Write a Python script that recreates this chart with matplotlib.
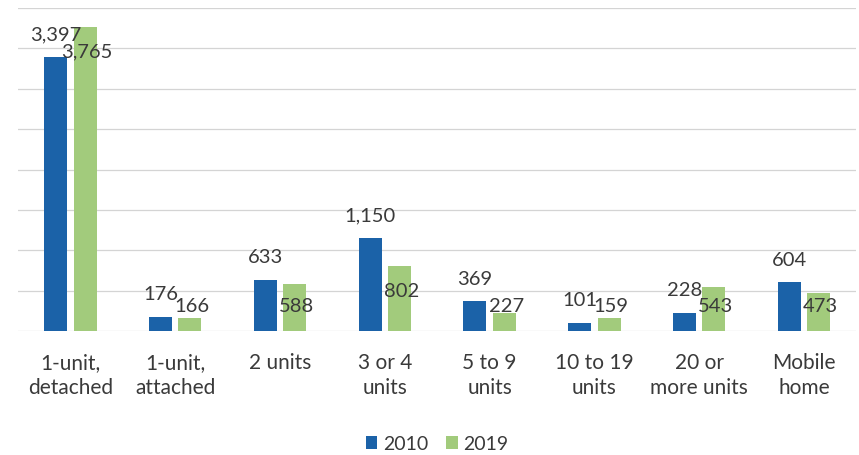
import matplotlib
matplotlib.use("Agg")
import matplotlib.pyplot as plt
import numpy as np

categories = ["1-unit,\ndetached", "1-unit,\nattached", "2 units", "3 or 4\nunits",
              "5 to 9\nunits", "10 to 19\nunits", "20 or\nmore units", "Mobile\nhome"]
values_2010 = [3397, 176, 633, 1150, 369, 101, 228, 604]
values_2019 = [3765, 166, 588, 802, 227, 159, 543, 473]
series_names = ["2010", "2019"]

blue = "#1B62A8"
green = "#A2CB7C"
text_color = "#3a3a3a"
font = ["Lato", "DejaVu Sans"]

plt.rcParams["font.family"] = font

fig = plt.figure(figsize=(8.59, 4.56), dpi=100)
ax = fig.add_axes([0.021, 0.272, 0.976, 0.708])

x = np.arange(len(categories))
w = 0.22
off = 0.14
b1 = ax.bar(x - off, values_2010, w, color=blue, label=series_names[0], zorder=3)
b2 = ax.bar(x + off, values_2019, w, color=green, label=series_names[1], zorder=3)

ax.set_xlim(-0.5, len(categories) - 0.5)
ax.set_ylim(0, 4000)
ax.set_yticks(np.arange(0, 4001, 500))
ax.yaxis.grid(True, color="#d4d4d4", linewidth=0.9, zorder=0)
ax.set_axisbelow(True)
for s in ax.spines.values():
    s.set_visible(False)
ax.tick_params(axis="y", length=0, labelleft=False)
ax.tick_params(axis="x", length=0, pad=15)
ax.set_xticks(x)
ax.set_xticklabels(categories, fontsize=15, color=text_color, linespacing=1.35,
                   ha="center", multialignment="center")

# 2010 labels above bars
for xi, v in zip(x, values_2010):
    ax.annotate(f"{v:,}", (xi - off, v), xytext=(0, 16.5), textcoords="offset points",
                ha="center", va="center", fontsize=14.5, color=text_color, zorder=4)

# 2019 labels inside end (floor for short bars)
for xi, v in zip(x, values_2019):
    yv = max(v - 300, 310)
    ax.text(xi + off + 0.02, yv, f"{v:,}", ha="center", va="center", fontsize=14.5,
            color=text_color, zorder=4)

leg = fig.legend(handles=[b1, b2], labels=series_names, loc="center",
                 bbox_to_anchor=(0.509, 1 - 445 / 456), ncol=2, frameon=False,
                 fontsize=14, handlelength=0.6, handleheight=0.6,
                 handletextpad=0.3, columnspacing=0.9)
for t in leg.get_texts():
    t.set_color(text_color)

fig.savefig("out.png", dpi=100)
